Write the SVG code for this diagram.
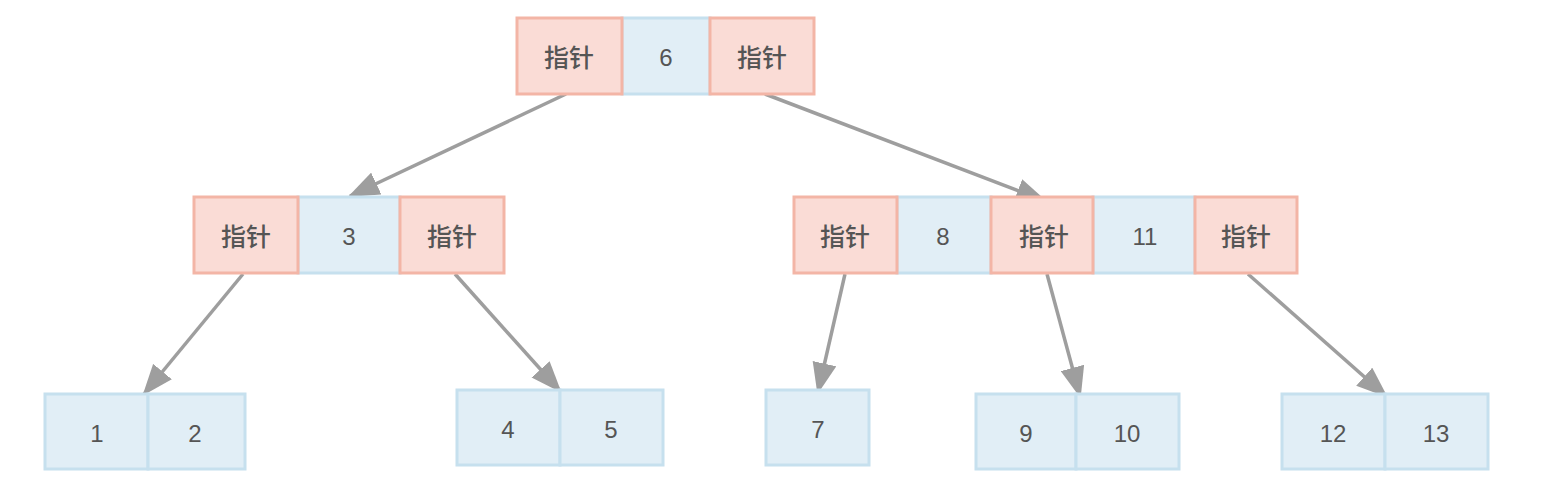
<svg xmlns="http://www.w3.org/2000/svg" width="1546" height="502" viewBox="0 0 1546 502">
<defs>
<marker id="ah" viewBox="0 0 13 10" refX="12" refY="5" markerWidth="9" markerHeight="7" markerUnits="strokeWidth" orient="auto">
<path d="M0,0 L13,5 L0,10 z" fill="#9e9e9e"/>
</marker>
</defs>
<style>
.p{fill:#fadcd6;stroke:#f3b5a6;stroke-width:3}
.b{fill:#e1eef6;stroke:#c6e0ee;stroke-width:3}
text{font-family:"Liberation Sans","Noto Sans CJK SC",sans-serif;font-size:24px;fill:#555;text-anchor:middle;dominant-baseline:central}
text.z{font-family:"Noto Sans CJK SC",sans-serif;font-size:25px;font-weight:500}
.c line{stroke:#9e9e9e;stroke-width:3.5;fill:none}
</style>
<rect width="1546" height="502" fill="#fff"/>
<g class="c" id="connectors">
<line x1="566" y1="94" x2="350" y2="196" marker-end="url(#ah)"/>
<line x1="765" y1="94" x2="1045" y2="201" marker-end="url(#ah)"/>
<line x1="243" y1="274" x2="144" y2="394" marker-end="url(#ah)"/>
<line x1="455" y1="274" x2="560" y2="391" marker-end="url(#ah)"/>
<line x1="845" y1="274" x2="818" y2="392" marker-end="url(#ah)"/>
<line x1="1047" y1="274" x2="1080" y2="396" marker-end="url(#ah)"/>
<line x1="1248" y1="274" x2="1386" y2="396" marker-end="url(#ah)"/>
</g>
<g id="root">
<rect class="b" x="622" y="18" width="88" height="76"/>
<rect class="p" x="517" y="18" width="105" height="76"/>
<rect class="p" x="710" y="18" width="104" height="76"/>
<text class="z" x="569" y="56">指针</text><text x="666" y="57">6</text><text class="z" x="762" y="56">指针</text>
</g>
<g id="n3">
<rect class="b" x="298" y="197" width="102" height="76"/>
<rect class="p" x="194" y="197" width="104" height="76"/>
<rect class="p" x="400" y="197" width="104" height="76"/>
<text class="z" x="246" y="235">指针</text><text x="349" y="236">3</text><text class="z" x="452" y="235">指针</text>
</g>
<g id="n8_11">
<rect class="b" x="897" y="197" width="94" height="76"/>
<rect class="b" x="1093" y="197" width="102" height="76"/>
<rect class="p" x="794" y="197" width="103" height="76"/>
<rect class="p" x="991" y="197" width="102" height="76"/>
<rect class="p" x="1195" y="197" width="102" height="76"/>
<text class="z" x="845" y="235">指针</text><text x="943" y="236">8</text><text class="z" x="1044" y="235">指针</text><text x="1145" y="236">11</text><text class="z" x="1246" y="235">指针</text>
</g>
<g id="n1_2">
<rect class="b" x="45" y="394" width="103" height="75"/>
<rect class="b" x="148" y="394" width="97" height="75"/>
<text x="97" y="433">1</text><text x="195" y="433">2</text>
</g>
<g id="n4_5">
<rect class="b" x="457" y="390" width="103" height="75"/>
<rect class="b" x="560" y="390" width="103" height="75"/>
<text x="508" y="429">4</text><text x="611" y="429">5</text>
</g>
<g id="n7">
<rect class="b" x="766" y="390" width="103" height="75"/>
<text x="818" y="429">7</text>
</g>
<g id="n9_10">
<rect class="b" x="976" y="394" width="100" height="75"/>
<rect class="b" x="1076" y="394" width="103" height="75"/>
<text x="1026" y="433">9</text><text x="1127" y="433">10</text>
</g>
<g id="n12_13">
<rect class="b" x="1282" y="394" width="103" height="75"/>
<rect class="b" x="1385" y="394" width="103" height="75"/>
<text x="1333" y="433">12</text><text x="1436" y="433">13</text>
</g>
</svg>
